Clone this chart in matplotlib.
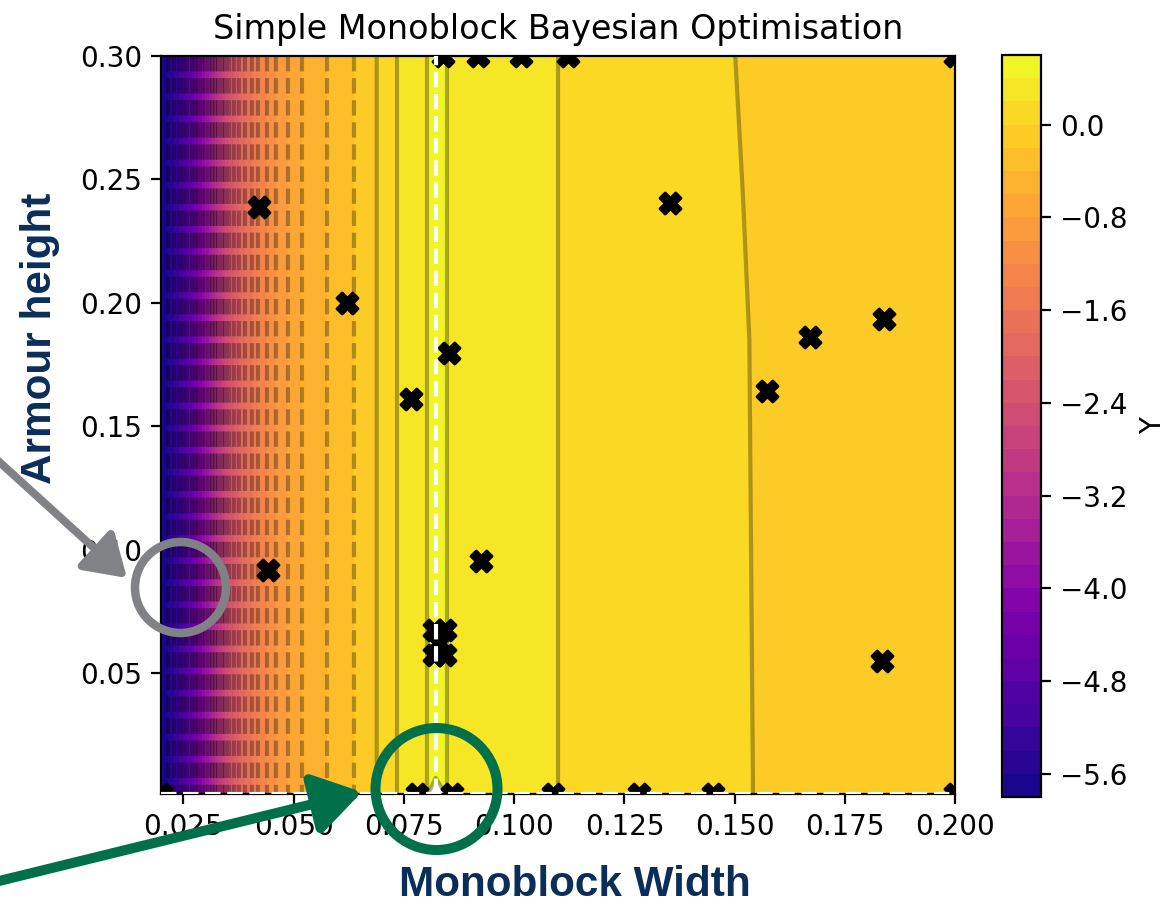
import numpy as np
import matplotlib
matplotlib.use("Agg")
import matplotlib.pyplot as plt
from matplotlib.patches import Ellipse, FancyArrowPatch

# ---------------- data ----------------
# Monoblock width grid nodes (x) at which the mean surface crosses contour levels
width_nodes = [0.0200, 0.02154, 0.02290, 0.02403, 0.02505, 0.02596, 0.02687,
               0.02766, 0.02845, 0.02925, 0.03004, 0.03083, 0.03151, 0.03219,
               0.03287, 0.03367, 0.03446, 0.03537, 0.03650, 0.03763, 0.03899,
               0.04051, 0.04201, 0.04391, 0.04595, 0.04867, 0.05184, 0.05751,
               0.06377, 0.06884, 0.07345, 0.08025,
               0.08220, 0.08478, 0.11000, 0.15010, 0.15410, 0.20000]
# Armour height grid rows (y)
height_nodes = [0.001, 0.008, 0.185, 0.245, 0.300]

# Mean Y on the left part (same for every row)
mean_left = [-5.7, -5.6, -5.4, -5.2, -5.0, -4.8, -4.6, -4.4, -4.2, -4.0,
             -3.8, -3.6, -3.4, -3.2, -3.0, -2.8, -2.6, -2.4, -2.2, -2.0,
             -1.8, -1.6, -1.4, -1.2, -1.0, -0.8, -0.6, -0.4, -0.2, 0.0,
             0.2, 0.4]
# Mean Y on the right part, per row (bottom -> top)
mean_right_h0001 = [2.0, 0.4, 0.2, 0.010, 0.000, -0.1]
mean_right_h0008 = [0.5, 0.4, 0.2, 0.010, 0.000, -0.1]
mean_right_h0185 = [0.5, 0.4, 0.2, 0.008, -0.002, -0.1]
mean_right_h0245 = [0.5, 0.4, 0.2, 0.0085, -0.0115, -0.1]
mean_right_h0300 = [0.5, 0.4, 0.2, 0.000, -0.010, -0.1]

# Evaluated samples
sample_width = [0.0422, 0.0621, 0.0852, 0.0766, 0.0442, 0.0925, 0.1353, 0.1670,
                0.1838, 0.1573, 0.1834,
                0.0818, 0.0843, 0.0818, 0.0843, 0.0830,
                0.0839, 0.0918, 0.1015, 0.1122, 0.2000,
                0.0200, 0.0780, 0.0858, 0.1088, 0.1284, 0.1450, 0.2000]
sample_height = [0.2388, 0.1999, 0.1797, 0.1610, 0.0917, 0.0954, 0.2404, 0.1861,
                 0.1934, 0.1643, 0.0549,
                 0.0675, 0.0675, 0.0575, 0.0575, 0.0620,
                 0.300, 0.300, 0.300, 0.300, 0.300,
                 0.001, 0.001, 0.001, 0.001, 0.001, 0.001, 0.001]

best_width = 0.0822
best_height = 0.001

cbar_ticks = [-5.6, -4.8, -4.0, -3.2, -2.4, -1.6, -0.8, 0.0]

# ---------------- figure ----------------
W_PX, H_PX, DPI = 1168, 909, 200
fig = plt.figure(figsize=(W_PX / DPI, H_PX / DPI), dpi=DPI)

ax = fig.add_axes([161.2 / W_PX, 1 - 794 / H_PX, (955.4 - 161.2) / W_PX, (794 - 56) / H_PX])
cax = fig.add_axes([1002 / W_PX, 1 - 797 / H_PX, 39 / W_PX, (797 - 55) / H_PX])

Xg, Yg = np.meshgrid(width_nodes, height_nodes)
Z = np.array([mean_left + mean_right_h0001,
              mean_left + mean_right_h0008,
              mean_left + mean_right_h0185,
              mean_left + mean_right_h0245,
              mean_left + mean_right_h0300])

levels = np.round(np.arange(-29, 4) * 0.2, 1)
cf = ax.contourf(Xg, Yg, Z, levels=levels, cmap="plasma")
ax.contour(Xg, Yg, Z, levels=levels, colors="k", alpha=0.3)

ax.scatter(sample_width, sample_height, marker="X", s=58, c="k", zorder=3)
ax.axvline(best_width, color="white", ls="--", lw=1.5, zorder=4)
ax.axhline(best_height, color="white", ls="--", lw=1.5, zorder=4)

ax.set_xlim(0.02, 0.2)
ax.set_ylim(0.001, 0.3)
ax.set_xticks([0.025, 0.05, 0.075, 0.1, 0.125, 0.15, 0.175, 0.2])
ax.set_yticks([0.05, 0.1, 0.15, 0.2, 0.25, 0.3])
ax.set_title("Simple Monoblock Bayesian Optimisation")

cb = fig.colorbar(cf, cax=cax, ticks=cbar_ticks)
cb.set_label("Y")

# ---------------- slide annotations ----------------
def fpt(x, y):
    return (x / W_PX, 1 - y / H_PX)

def px2pt(p):
    return p * 72 / DPI

navy = "#0b2e59"
grey = "#808285"
green = "#00704a"

# grey circle + arrow
cx, cy = fpt(180.5, 587.5)
fig.add_artist(Ellipse((cx, cy), 2 * 45.5 / W_PX, 2 * 45.5 / H_PX, transform=fig.transFigure,
                       fill=False, ec=grey, lw=px2pt(8.5)))
fig.add_artist(FancyArrowPatch(fpt(-5, 458), fpt(127, 578), transform=fig.transFigure,
                               arrowstyle="-|>,head_length=0.55,head_width=0.35",
                               mutation_scale=px2pt(62), color=grey, lw=px2pt(8),
                               shrinkA=0, shrinkB=0))

# green circle + arrow
gx, gy = fpt(436.5, 789)
fig.add_artist(Ellipse((gx, gy), 2 * 61 / W_PX, 2 * 61 / H_PX, transform=fig.transFigure,
                       fill=False, ec=green, lw=px2pt(10)))
fig.add_artist(FancyArrowPatch(fpt(-5, 882), fpt(362, 792), transform=fig.transFigure,
                               arrowstyle="-|>,head_length=0.55,head_width=0.35",
                               mutation_scale=px2pt(72), color=green, lw=px2pt(10),
                               shrinkA=0, shrinkB=0))

fig.text(*fpt(575, 885), "Monoblock Width", ha="center", va="center",
         fontsize=15.2, fontweight="bold", family="Liberation Sans", color=navy)
fig.text(*fpt(40, 338), "Armour height", ha="center", va="center", rotation=90,
         fontsize=15.2, fontweight="bold", family="Liberation Sans", color=navy)

fig.savefig("out.png", dpi=DPI)
